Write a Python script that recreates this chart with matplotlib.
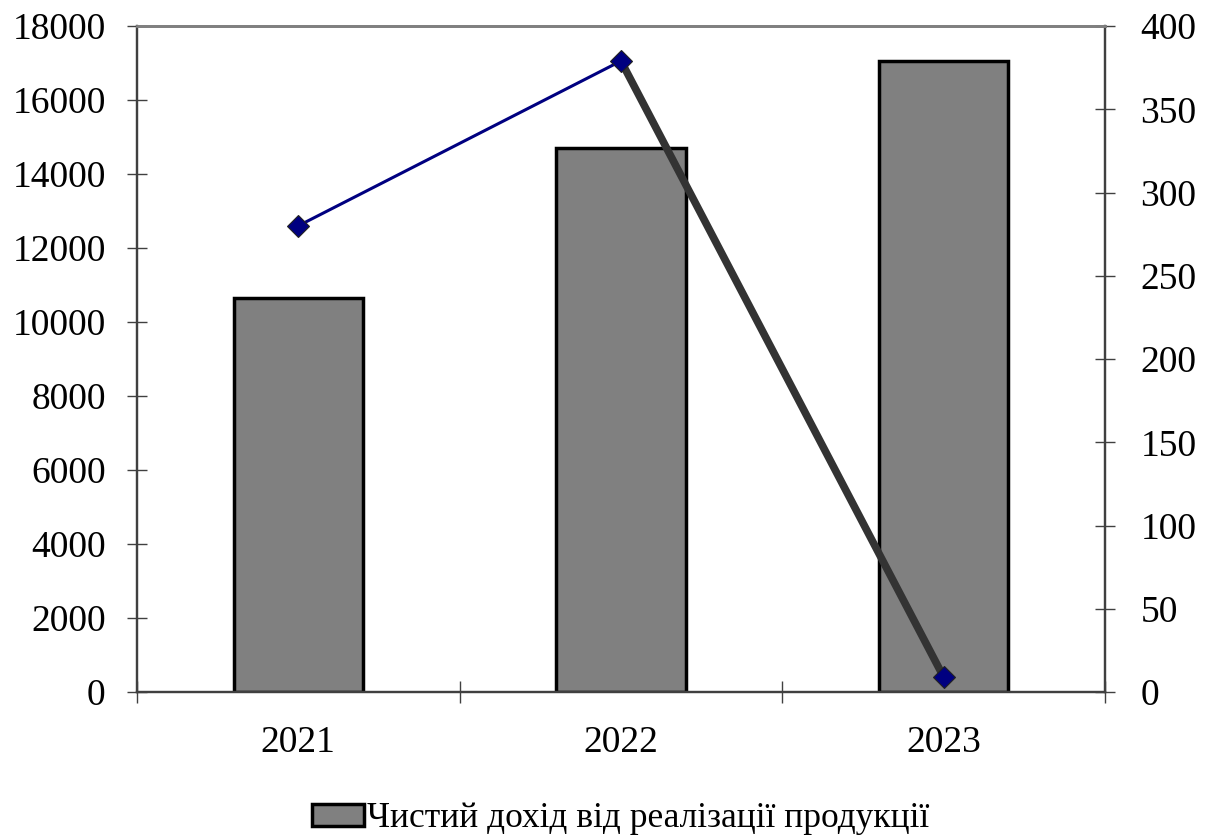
import matplotlib.pyplot as plt
from matplotlib.ticker import FixedLocator

# values for each year
years = ['2021', '2022', '2023']
revenue = [10640, 14700, 17050]   # net revenue from sales (left axis)
profit = [280, 379, 9]            # right axis series

plt.rcParams['font.family'] = ['Liberation Serif', 'DejaVu Serif']
plt.rcParams['font.size'] = 27

fig = plt.figure(figsize=(12.1, 8.39), dpi=100)
ax = fig.add_axes([0.1132, 0.1752, 0.8, 0.7938])
ax2 = ax.twinx()

x = list(range(len(years)))
bars = ax.bar(x, revenue, width=0.4, color='#808080', edgecolor='black', linewidth=2.5,
              label='Чистий дохід від реалізації продукції', zorder=2)

ax.set_xlim(-0.5, len(years) - 0.5)
ax.set_ylim(0, 18000)
ax.set_yticks(range(0, 18001, 2000))
ax.set_xticks(x)
ax.set_xticklabels(years)
ax.xaxis.set_minor_locator(FixedLocator([i - 0.5 for i in range(len(years) + 1)]))
ax.tick_params(axis='x', which='major', length=0, pad=24)
ax.tick_params(axis='x', which='minor', direction='inout', length=16, width=1, color='#404040')
ax.tick_params(axis='y', direction='inout', length=15, width=1, color='#404040', pad=15)

ax2.set_ylim(0, 400)
ax2.set_yticks(range(0, 401, 50))
ax2.tick_params(axis='y', direction='inout', length=15, width=1, color='#404040', pad=18)

# line: first segment thin navy, second thick dark grey
ax2.plot(x[:2], profit[:2], color='#000080', linewidth=2.2, zorder=3)
ax2.plot(x[1:], profit[1:], color='#333333', linewidth=5.5, zorder=3)
ax2.plot(x, profit, linestyle='none', marker='D', markersize=11, color='#000080',
         markeredgecolor='#222222', markeredgewidth=0.8, zorder=4)

for a in (ax, ax2):
    a.spines['top'].set_color('#808080')
    a.spines['top'].set_linewidth(2)
    a.spines['left'].set_color('#404040')
    a.spines['left'].set_linewidth(1.6)
    a.spines['right'].set_color('#404040')
    a.spines['right'].set_linewidth(1.6)
    a.spines['bottom'].set_color('#404040')
    a.spines['bottom'].set_linewidth(1.6)

fig.legend(handles=[bars], loc='center', bbox_to_anchor=(0.513, 0.024), frameon=False,
           handlelength=1.47, handleheight=0.56, handletextpad=0.1, fontsize=25.5)

fig.savefig('out.png', dpi=100)
